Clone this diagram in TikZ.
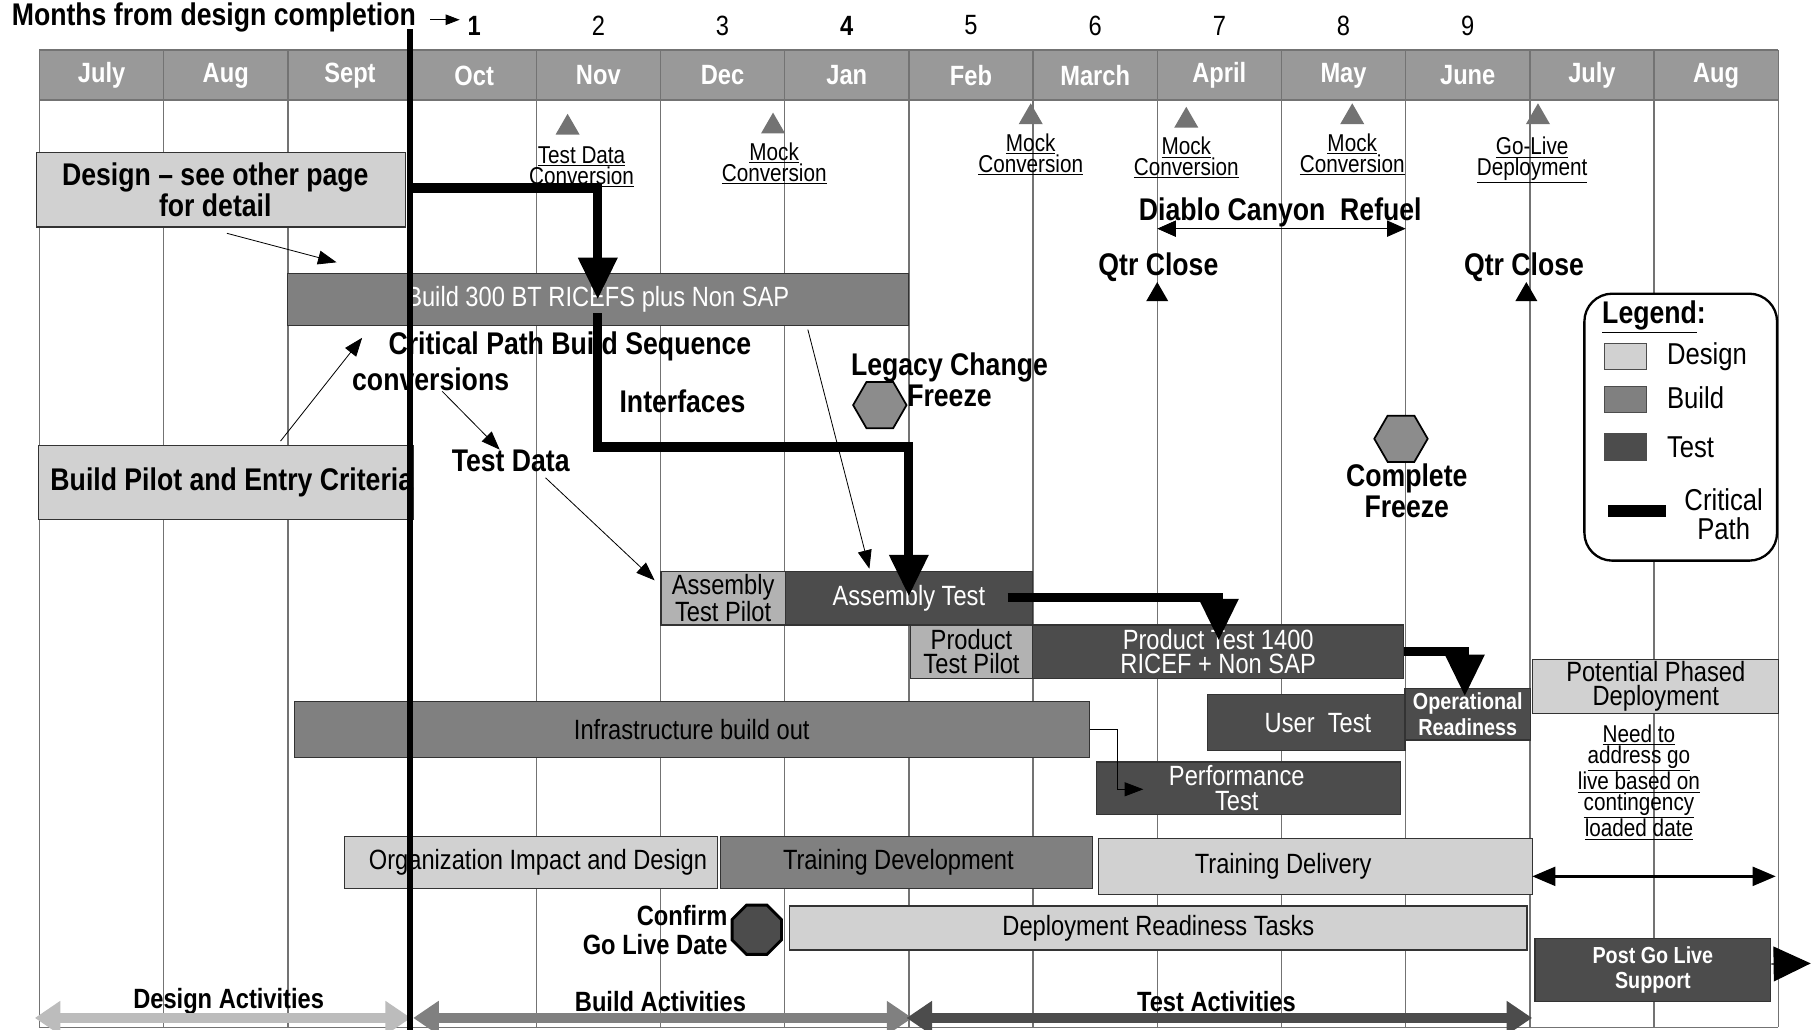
\documentclass[tikz,border=0pt]{standalone}
\usepackage{fontspec}
\setmainfont{Liberation Sans}[FakeStretch=0.85]
\usetikzlibrary{arrows.meta,shapes.geometric}
\definecolor{headC}{gray}{0.6}
\definecolor{designC}{gray}{0.82}
\definecolor{pilotC}{gray}{0.7}
\definecolor{buildC}{gray}{0.5}
\definecolor{testC}{gray}{0.3}
\definecolor{gridC}{gray}{0.45}

\begin{document}
\begin{tikzpicture}[x=1pt, y=-1pt, line join=miter]
            \tikzstyle{bar}=[draw=black!80, line width=1pt, inner sep=0pt, anchor=north west, align=center, font=\fontsize{24}{21}\selectfont]
            \tikzstyle{designbar}=[bar, fill=designC]
            \tikzstyle{pilotbar}=[bar, fill=pilotC]
            \tikzstyle{buildbar}=[bar, fill=buildC]
            \tikzstyle{testbar}=[bar, fill=testC, text=white]
            \tikzstyle{lbl}=[font=\bfseries\fontsize{27}{27}\selectfont, align=center, inner sep=0pt]
            \tikzstyle{sml}=[font=\fontsize{21}{18}\selectfont, align=center, inner sep=0pt]
            \tikzstyle{mile}=[regular polygon, regular polygon sides=3, fill=gray!90!black, inner sep=0pt, minimum size=24pt]
            \tikzstyle{hexa}=[regular polygon, regular polygon sides=6, draw=black, line width=1.5pt, fill=gray!90, inner sep=0pt, minimum size=46pt]
            \tikzstyle{thinarr}=[-{Triangle[width=12pt,length=16pt]}, line width=0.7pt]
            \tikzstyle{crit}=[line width=8pt, -{Triangle[width=32pt,length=36pt]}]
            \tikzstyle{phase}=[line width=9pt, {Triangle[width=28pt,length=22pt]}-{Triangle[width=28pt,length=22pt]}]

                \useasboundingbox (0,0) rectangle (1568,887);

                % Grade
                \fill[headC] (34,43) rectangle (1532,86);
                \foreach \i in {0,...,14}
                    \draw[gridC, line width=1.2pt] (34+107*\i,43) -- (34+107*\i,885);
                \draw[gridC, line width=1.2pt] (34,43) -- (1532,43) (34,86) -- (1532,86) (34,885) -- (1532,885);
                \foreach \m [count=\i from 0] in {July,Aug,Sept,Oct,Nov,Dec,Jan,Feb,March,April,May,June,July,Aug}
                    \node[text=white, font=\bfseries\fontsize{24}{24}\selectfont] (mon\i) at (87.5+107*\i,65) {\m};
                \foreach \n/\f in {1/\bfseries,2/\relax,3/\relax,4/\bfseries,5/\relax,6/\relax,7/\relax,8/\relax,9/\relax}
                    \node[font=\f\fontsize{24}{24}\selectfont] (num\n) at (408.5+107*\n-107,22) {\n};

                \node[font=\bfseries\fontsize{27}{27}\selectfont, anchor=west, inner sep=0pt] (title) at (10,15) {Months from design completion};
                \coordinate (tarr) at (396,17);
                \draw[-{Triangle[width=9pt,length=12pt]}, line width=0.7pt] ([xshift=12pt,yshift=-2pt]title.east) -- (tarr);

                % Barras
                \node[designbar, font=\bfseries\fontsize{27}{27}\selectfont, minimum width=318pt, minimum height=64pt] (dsn) at (31,131) {Design – see other page\hspace*{10pt}\\for detail\hspace*{10pt}};
                \node[buildbar, text=white, minimum width=535pt, minimum height=45pt] (b300) at (247,235) {Build 300 BT RICEFS plus Non SAP};
                \node[designbar, font=\bfseries\fontsize{27}{27}\selectfont, minimum width=320pt, minimum height=64pt] (bpil) at (33,383) {\hspace*{10pt}Build Pilot and Entry Criteria};
                \node[pilotbar, minimum width=107pt, minimum height=46pt] (atp) at (569,492) {Assembly\\Test Pilot};
                \node[testbar, minimum width=213pt, minimum height=46pt] (atest) at (676,492) {Assembly Test};
                \node[pilotbar, minimum width=105pt, minimum height=46pt] (ptp) at (784,538) {Product\\Test Pilot};
                \node[testbar, minimum width=320pt, minimum height=46pt] (ptest) at (889,538) {Product Test 1400\\RICEF + Non SAP};
                \node[designbar, minimum width=212pt, minimum height=46pt] (phased) at (1320,568) {Potential Phased\\Deployment};
                \node[testbar, font=\bfseries\fontsize{20}{22}\selectfont, minimum width=108pt, minimum height=44pt] (oper) at (1210,593) {Operational\\Readiness};
                \node[testbar, minimum width=170pt, minimum height=48pt] (utest) at (1040,598) {\hspace*{20pt}User\ \ Test};
                \node[buildbar, minimum width=685pt, minimum height=48pt] (infra) at (253,604) {Infrastructure build out};
                \node[testbar, minimum width=262pt, minimum height=45pt] (perf) at (944,656) {Performance\hspace*{20pt}\\Test\hspace*{20pt}};
                \node[designbar, minimum width=322pt, minimum height=45pt] (org) at (296,720) {\hspace*{12pt}Organization Impact and Design};
                \node[buildbar, minimum width=321pt, minimum height=45pt] (tdev) at (620,720) {Training Development\hspace*{14pt}};
                \node[designbar, minimum width=374pt, minimum height=48pt] (tdel) at (946,722) {Training Delivery\hspace*{56pt}};
                \node[designbar, minimum width=635pt, minimum height=38pt] (drt) at (680,780) {Deployment Readiness Tasks};
                \node[testbar, font=\bfseries\fontsize{20}{22}\selectfont, minimum width=203pt, minimum height=54pt] (post) at (1322,808) {Post Go Live\\Support};

                % Marcos
                \foreach \tx/\ty/\lx/\ly/\la/\lb [count=\i] in {489/110/501/144/Test Data/Conversion, 666/109/667/141/Mock/Conversion, 888/101/888/133/Mock/Conversion, 1022/104/1022/136/Mock/Conversion, 1165/101/1165/133/Mock/Conversion, 1325/101/1320/138/Go-Live/Deployment}{
                    \node[mile] (ms\i) at (\tx,\ty) {};
                    \node[sml] (msl\i) at (\lx,\ly) {\underline{\la}\\\underline{\lb}};
                }
                \node[lbl] (diablo) at (1103,183) {Diablo Canyon\ \ Refuel};
                \coordinate (dcL) at (997,197);
                \coordinate (dcR) at (1211,197);
                \draw[{Triangle[width=14pt,length=16pt]}-{Triangle[width=14pt,length=16pt]}, line width=0.7pt] (dcL) -- (dcR);
                \node[lbl] (qtr1) at (998,230) {Qtr Close};
                \node[mile, fill=black, minimum size=22pt] (qc1) at (997,254) {};
                \node[lbl] (qtr2) at (1313,230) {Qtr Close};
                \node[mile, fill=black, minimum size=22pt] (qc2) at (1315,254) {};

                \node[hexa] (lcf) at (758,349) {};
                \node[lbl] (lcft) at (818,327) {Legacy Change\\Freeze};
                \node[hexa] (cfz) at (1207,378) {};
                \node[lbl] (cfzt) at (1212,423) {Complete\\Freeze};
                \node[regular polygon, regular polygon sides=8, draw, line width=2.5pt, fill=testC, minimum size=46pt, inner sep=0pt] (cgl) at (652,801) {};
                \node[lbl, align=right, anchor=east, font=\bfseries\fontsize{24}{25}\selectfont] (cglt) at (627,801) {Confirm\\Go Live Date};

                % Rotulos
                \node[lbl] (cpbs) at (491,298) {Critical Path Build Sequence};
                \node[lbl] (conv) at (371,327) {conversions};
                \node[lbl] (intf) at (588,346) {Interfaces};
                \node[lbl] (tdata) at (440,397) {Test Data};
                \node[sml] (need) at (1412,674) {\underline{Need to}\\\underline{address go}\\\underline{live based on}\\\underline{contingency}\\\underline{loaded date}};

                % Setas
                \draw[thinarr] ([xshift=5pt,yshift=-5pt]dsn.south) -- ([xshift=43pt,yshift=9pt]b300.north west);
                \draw[thinarr] ([xshift=47pt,yshift=3pt]bpil.north) -- ([xshift=65pt,yshift=-10pt]b300.south west);
                \draw[thinarr] (conv) -- (tdata);
                \draw[thinarr] ([xshift=30pt,yshift=-5pt]tdata.south) -- ([xshift=-5pt,yshift=-8pt]atp.north west);
                \draw[thinarr] ([xshift=-87pt,yshift=-3pt]b300.south east) -- ([xshift=73pt,yshift=2pt]atest.north west);
                \coordinate (perfin) at (985,680);
                \draw[thinarr] (infra.east) -- ++(24,0) |- (perfin);
                \coordinate (glL) at (1320,755);
                \coordinate (glR) at (1530,755);
                \draw[line width=3pt, {Triangle[width=16pt,length=20pt]}-{Triangle[width=16pt,length=20pt]}] (glL) -- (glR);
                \coordinate (postTip) at (1560,830);
                \draw[-{Triangle[width=30pt,length=32pt]}, line width=1pt] ([yshift=5pt]post.east) -- (postTip);

                % Fases
                \node[lbl, font=\bfseries\fontsize{24}{24}\selectfont] (dact) at (197,863) {Design Activities};
                \node[lbl, font=\bfseries\fontsize{24}{24}\selectfont] (bact) at (569,863) {Build Activities};
                \node[lbl, font=\bfseries\fontsize{24}{24}\selectfont] (tact) at (1048,863) {Test Activities};
                \coordinate (ph0) at (30,877);
                \coordinate (ph1) at (354,877);
                \coordinate (ph2) at (356,877);
                \coordinate (ph3) at (786,877);
                \coordinate (ph4) at (781,877);
                \coordinate (ph5) at (1320,877);
                \draw[phase, draw=designC!90!black] (ph0) -- (ph1);
                \draw[phase, draw=gray] (ph2) -- (ph3);
                \draw[phase, draw=testC] (ph4) -- (ph5);

                % Legenda
                \node[draw, line width=2pt, rounded corners=24pt, fill=white, minimum width=166pt, minimum height=230pt, anchor=north west] (legend) at (1364,252) {};
                \node[lbl] (legt) at (1425,273) {\underline{Legend}:};
                \node[draw=black!70, fill=designC, minimum width=36pt, minimum height=23pt, inner sep=0pt] (swd) at (1400,307) {};
                \node[draw=black!70, fill=buildC, minimum width=36pt, minimum height=23pt, inner sep=0pt] (swb) at (1400,344) {};
                \node[draw=black!70, fill=testC, minimum width=36pt, minimum height=23pt, inner sep=0pt] (swt) at (1400,385) {};
                \node[fill=black, minimum width=50pt, minimum height=10pt, inner sep=0pt] (swc) at (1410,440) {};
                \node[font=\fontsize{26}{25}\selectfont, anchor=west, inner sep=0pt] (lgd) at (1436,307) {Design};
                \node[font=\fontsize{26}{25}\selectfont, anchor=west, inner sep=0pt] (lgb) at (1436,343) {Build};
                \node[font=\fontsize{26}{25}\selectfont, anchor=west, inner sep=0pt] (lgt) at (1436,385) {Test};
                \node[font=\fontsize{26}{25}\selectfont, align=center, inner sep=0pt] (lgc) at (1485,443) {Critical\\Path};

                % Caminho critico
                \draw[line width=5pt] (353,25) -- (353,887);
                \coordinate (cpA) at (353,162);
                \coordinate (cpB) at (515,258);
                \draw[crit] (cpA) -| (cpB);
                \coordinate (cpC) at (515,270);
                \coordinate (cpD) at (783,514);
                \draw[crit] (cpC) -- ++(0,115) -| (cpD);
                \coordinate (cpE) at (868,515);
                \coordinate (cpF) at (1050,552);
                \draw[crit] (cpE) -| (cpF);
                \coordinate (cpH) at (1262,600);
                \draw[crit] (ptest.east) -| (cpH);
        \end{tikzpicture}
\end{document}
